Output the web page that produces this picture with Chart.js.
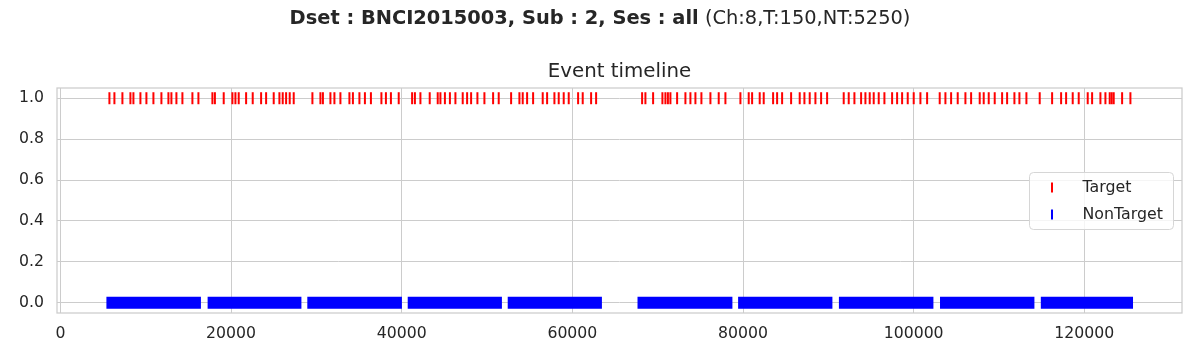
<!DOCTYPE html>
<html>
<head>
<meta charset="utf-8">
<script src="https://cdn.jsdelivr.net/npm/chart.js@4.4.1/dist/chart.umd.min.js"></script>
<style>
  html, body { margin: 0; padding: 0; background: #fff; }
  #wrap { width: 1200px; height: 360px; }
</style>
</head>
<body>
<div id="wrap"><canvas id="timeline" width="1200" height="360"></canvas></div>
<script>
// ===== Data =====

const seriesLabels = ['Target', 'NonTarget'];
const targetLevel = 1;
const nonTargetLevel = 0;

// target event sample positions
const targetTimes = [
  5743, 6329, 7266, 8204, 8556, 9376, 10079, 10900, 11837, 12658, 13009, 13595, 14298, 15470, 16174,
  17814, 18107, 19139, 20158, 20510, 20897, 21764, 22538, 23522, 24108, 24999, 25667, 26054, 26452, 26874, 27343,
  29534, 30472, 30765, 31644, 32113, 32816, 33871, 34281, 35043, 35687, 36391, 37621, 38149, 38735, 39649,
  41219, 41547, 42192, 43282, 44220, 44536, 45063, 45649, 46294, 47150, 47665, 48134, 48872, 49693, 50712, 51369,
  52822, 53795, 54182, 54697, 55400, 56526, 57041, 57897, 58401, 58987, 59573, 60674, 61214, 62198, 62784,
  68175, 68562, 69464, 70554, 70906, 71199, 71492, 72277, 73250, 73836, 74422, 75125, 76180, 77153, 77938,
  79696, 80669, 81067, 81958, 82427, 83528, 83997, 84583, 85638, 86646, 87197, 87818, 88486, 89154, 89857,
  91803, 92389, 93057, 93842, 94346, 94850, 95319, 95905, 96573, 97475, 98061, 98647, 99304, 100007, 100792, 101577,
  103054, 103722, 104390, 105164, 106066, 106734, 107742, 108211, 108797, 109500, 110367, 110953, 111809, 112395, 113215,
  114774, 116227, 117282, 117868, 118642, 119345, 120400, 120915, 121888, 122474, 122978, 123212, 123447, 124431, 125404
];

// non-target events are so dense they merge into solid runs: start / end of each run
const nonTargetStarts = [5391, 17252, 28937, 40704, 52424, 67636, 79426, 91240, 103089, 114903];
const nonTargetEnds   = [16467, 28245, 40024, 51744, 63464, 78758, 90478, 102316, 114153, 125709];

const xTicks = [0, 20000, 40000, 60000, 80000, 100000, 120000];
const yTicks = [0, 0.2, 0.4, 0.6, 0.8, 1.0];

// ===== Style =====

const FONT = '"DejaVu Sans", "Liberation Sans", sans-serif';
const TEXT = '#262626';
const GRID = '#cccccc';

// ===== Build datasets =====

const targetPoints = targetTimes.map(t => ({ x: t, y: targetLevel }));

const nonTargetPoints = [];
nonTargetStarts.forEach((s, i) => {
  nonTargetPoints.push({ x: s, y: nonTargetLevel }, { x: nonTargetEnds[i], y: nonTargetLevel });
  if (i < nonTargetStarts.length - 1) nonTargetPoints.push({ x: nonTargetEnds[i], y: null });
});

// ===== Plugins =====

const framePlugin = {
  id: 'frame',
  beforeDatasetsDraw(chart) {
    const { ctx, chartArea: a } = chart;
    ctx.save();
    ctx.strokeStyle = GRID;
    ctx.lineWidth = 1.25;
    ctx.strokeRect(a.left, a.top, a.right - a.left, a.bottom - a.top);
    ctx.restore();
  }
};

const titlesPlugin = {
  id: 'titles',
  afterDraw(chart) {
    const ctx = chart.ctx;
    ctx.save();
    ctx.fillStyle = TEXT;
    ctx.textBaseline = 'middle';

    // suptitle: bold part + normal part, centred together
    const boldPart = 'Dset : BNCI2015003, Sub : 2, Ses : all';
    const normalPart = ' (Ch:8,T:150,NT:5250)';
    const boldFont = 'bold 19.4px ' + FONT;
    const normFont = '19.4px ' + FONT;
    ctx.font = boldFont;
    const wb = ctx.measureText(boldPart).width;
    ctx.font = normFont;
    const wn = ctx.measureText(normalPart).width;
    let x0 = 600 - (wb + wn) / 2;
    ctx.textAlign = 'left';
    ctx.font = boldFont;
    ctx.fillText(boldPart, x0, 19);
    ctx.font = normFont;
    ctx.fillText(normalPart, x0 + wb, 19);

    // axes title
    const a = chart.chartArea;
    ctx.textAlign = 'center';
    ctx.font = '19.8px ' + FONT;
    ctx.fillText('Event timeline', (a.left + a.right) / 2, 72);
    ctx.restore();
  }
};

const legendPlugin = {
  id: 'innerLegend',
  afterDraw(chart) {
    const ctx = chart.ctx;
    const bx = 1029.5, by = 172.5, bw = 144, bh = 57, r = 4;
    ctx.save();
    ctx.beginPath();
    ctx.roundRect(bx, by, bw, bh, r);
    ctx.fillStyle = 'rgba(255,255,255,0.8)';
    ctx.fill();
    ctx.strokeStyle = '#d6d6d6';
    ctx.lineWidth = 1;
    ctx.stroke();

    chart.data.datasets.forEach((ds, i) => {
      const cy = 187.5 + i * 27;
      ctx.beginPath();
      ctx.strokeStyle = ds.legendColor;
      ctx.lineWidth = 2;
      ctx.moveTo(1052, cy - 5);
      ctx.lineTo(1052, cy + 5);
      ctx.stroke();
      ctx.fillStyle = TEXT;
      ctx.font = '15.8px ' + FONT;
      ctx.textAlign = 'left';
      ctx.textBaseline = 'middle';
      ctx.fillText(ds.label, 1082.5, cy);
    });
    ctx.restore();
  }
};

// ===== Chart =====

new Chart(document.getElementById('timeline').getContext('2d'), {
  type: 'scatter',
  data: {
    datasets: [
      {
        label: seriesLabels[0],
        data: targetPoints,
        pointStyle: 'line',
        rotation: 90,
        radius: 6,
        borderWidth: 2,
        borderColor: '#ff0000',
        backgroundColor: '#ff0000',
        legendColor: '#ff0000',
        showLine: false
      },
      {
        label: seriesLabels[1],
        data: nonTargetPoints,
        showLine: true,
        spanGaps: false,
        pointRadius: 0,
        borderWidth: 12,
        borderCapStyle: 'butt',
        borderColor: '#0000ff',
        backgroundColor: '#0000ff',
        legendColor: '#0000ff'
      }
    ]
  },
  options: {
    responsive: false,
    animation: false,
    devicePixelRatio: 1,
    events: [],
    layout: { padding: { top: 88, right: 18, left: 0, bottom: 0 } },
    plugins: {
      legend: { display: false },
      title: { display: false },
      tooltip: { enabled: false }
    },
    scales: {
      x: {
        type: 'linear',
        min: -400,
        max: 131450,
        afterBuildTicks: s => { s.ticks = xTicks.map(v => ({ value: v })); },
        afterFit: s => { s.height = 47; },
        grid: { color: GRID, lineWidth: 1, drawTicks: false },
        border: { display: false },
        ticks: {
          autoSkip: false,
          maxRotation: 0,
          padding: 12,
          color: TEXT,
          font: { family: FONT, size: 15.7 },
          callback: v => String(v)
        }
      },
      y: {
        type: 'linear',
        min: -0.05,
        max: 1.05,
        afterBuildTicks: s => { s.ticks = yTicks.map(v => ({ value: v })); },
        afterFit: s => { s.width = 57; },
        grid: { color: GRID, lineWidth: 1, drawTicks: false },
        border: { display: false },
        ticks: {
          padding: 13,
          color: TEXT,
          font: { family: FONT, size: 15.7 },
          callback: v => v.toFixed(1)
        }
      }
    }
  },
  plugins: [framePlugin, titlesPlugin, legendPlugin]
});
</script>
</body>
</html>
